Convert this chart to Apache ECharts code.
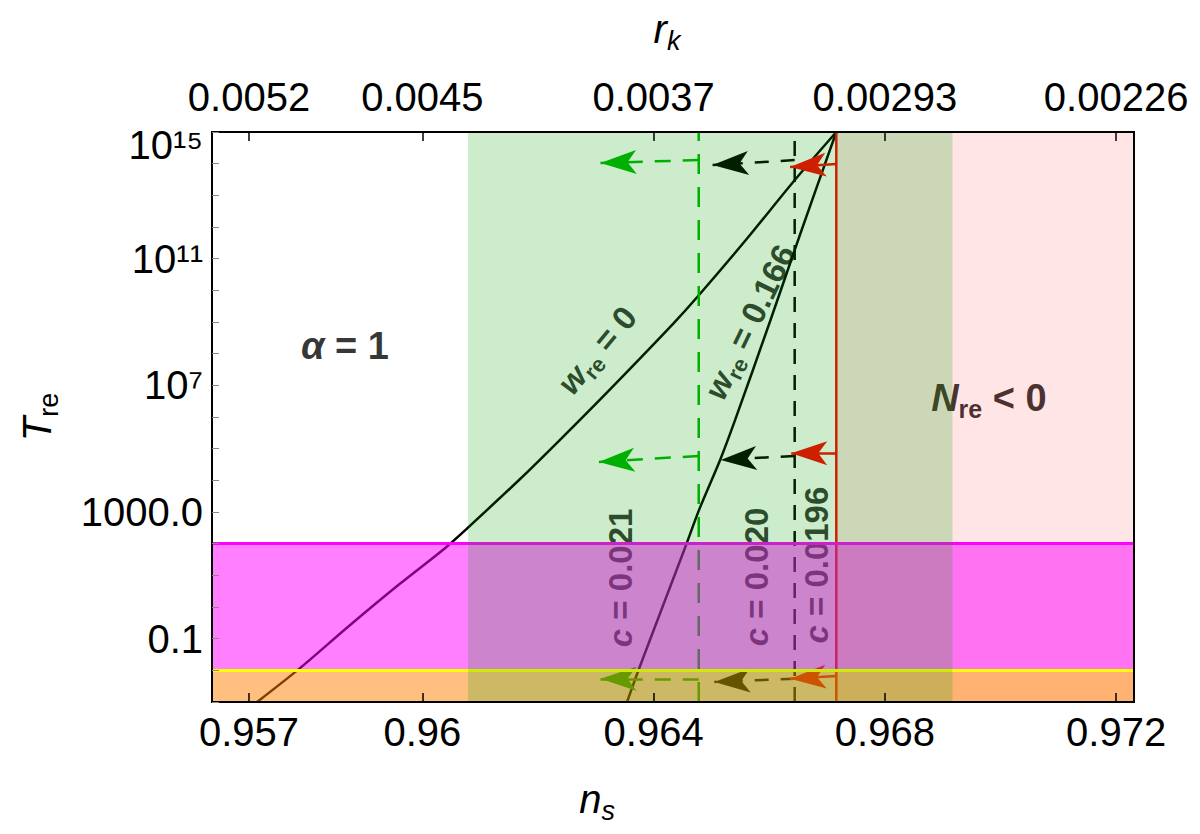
<!DOCTYPE html>
<html>
<head>
<meta charset="utf-8">
<title>Tre vs ns</title>
<script src="https://cdn.jsdelivr.net/npm/echarts@6.0.0/dist/echarts.min.js"></script>
<style>
  html, body { margin: 0; padding: 0; background: #fff; }
  #main { width: 1200px; height: 834px; }
</style>
</head>
<body>
<div id="main"></div>
<script>
// axis ranges
var nsMin = 0.95636, nsMax = 0.97231;
var tMin = 0.9999e-3, tMax = 1.0001e15;

// ticks (top axis shows r_k at the same n_s positions)
var nsTicks = [0.957, 0.96, 0.964, 0.968, 0.972];
var rkLabels = ['0.0052', '0.0045', '0.0037', '0.00293', '0.00226'];
var tLabelTicks = [0.1, 1000, 1e7, 1e11, 1e15];
var tMinorTicks = [1e-3, 1e-2, 1e-1, 1, 10, 100, 1e3, 1e4, 1e5, 1e6, 1e7, 1e8, 1e9, 1e10, 1e11, 1e12, 1e13, 1e14, 1e15];

// w_re = 0 curve
var w0Ns = [0.95714, 0.95785, 0.95875, 0.95961, 0.96039, 0.96077, 0.96169, 0.96238, 0.96325, 0.96434, 0.96477, 0.96562, 0.96641, 0.96716];
var w0T = [1e-3, 1.05e-2, 0.27, 5.4, 72, 300, 1.1e4, 1.9e5, 7.6e6, 8.9e8, 6.6e9, 4.4e11, 2.6e13, 1e15];

// w_re = 0.166 curve
var w166Ns = [0.96354, 0.96376, 0.96454, 0.9648, 0.96515, 0.96541, 0.96601, 0.96653, 0.96716];
var w166T = [1e-3, 1.3e-2, 72, 1350, 4.4e4, 8.1e5, 1e9, 5.6e11, 1e15];

// vertical lines: c = 0.021, c = 0.020, c = 0.0196
var cLineNs = [0.96478, 0.96644, 0.96716];

// shaded regions
var greenBandNs = [0.96079, 0.96917];
var nreNegNs = 0.96716;
var magentaBandT = [1e-2, 100];
var orangeBandT = [1e-3, 1e-2];

// arrows: [ns start, T start, ns tip, T tip]
var greenArrows = [[0.96478, 1.3e14, 0.96308, 1.05e14], [0.96478, 5.9e4, 0.96305, 3.8e4], [0.96478, 5.4e-3, 0.96308, 5.4e-3]];
var blackArrows = [[0.96644, 1.3e14, 0.96502, 9e13], [0.96644, 5.9e4, 0.96516, 4.4e4], [0.96644, 5.4e-3, 0.96505, 4.3e-3]];
var redArrows = [[0.96716, 9.8e13, 0.96636, 7.9e13], [0.96716, 7.2e4, 0.96638, 7.2e4], [0.96716, 6.6e-3, 0.96636, 5.4e-3]];

var font = 'Liberation Sans, Arial, Helvetica, sans-serif';

// text annotations placed in data coordinates
var notes = [
    {ns: 0.95866, t: 1.7e8, rot: 0, text: '{ai|α}{a| = 1}'},
    {ns: 0.96980, t: 4e6, rot: 0, text: '{ai|N}{as|re}{a| < 0}'},
    {ns: 0.96302, t: 1.3e8, rot: 50, text: '{bi|w}{bs|re}{b| = 0}'},
    {ns: 0.96566, t: 1e9, rot: 64, text: '{bi|w}{bs|re}{b| = 0.166}'},
    {ns: 0.96343, t: 8.3, rot: 90, text: '{bi|c}{b| = 0.021}'},
    {ns: 0.96578, t: 8.9, rot: 90, text: '{bi|c}{b| = 0.020}'},
    {ns: 0.96682, t: 21, rot: 90, text: '{bi|c}{b| = 0.0196}'}
];

var noteRich = {
    a: {fontFamily: font, fontSize: 38, fontWeight: 'bold', color: '#000', lineHeight: 48},
    ai: {fontFamily: font, fontSize: 38, fontWeight: 'bold', fontStyle: 'italic', color: '#000', lineHeight: 48},
    as: {fontFamily: font, fontSize: 25, fontWeight: 'bold', color: '#000', lineHeight: 25, verticalAlign: 'bottom'},
    b: {fontFamily: font, fontSize: 33, fontWeight: 'bold', color: '#000', lineHeight: 42},
    bi: {fontFamily: font, fontSize: 33, fontWeight: 'bold', fontStyle: 'italic', color: '#000', lineHeight: 42},
    bs: {fontFamily: font, fontSize: 22, fontWeight: 'bold', color: '#000', lineHeight: 22, verticalAlign: 'bottom'}
};

var nameRich = {
    i: {fontFamily: font, fontSize: 40, fontStyle: 'italic', color: '#000', lineHeight: 50},
    s: {fontFamily: font, fontSize: 27, color: '#000', lineHeight: 26, verticalAlign: 'bottom'},
    si: {fontFamily: font, fontSize: 27, fontStyle: 'italic', color: '#000', lineHeight: 26, verticalAlign: 'bottom'}
};

var supDigits = ['⁰', '¹', '²', '³', '⁴', '⁵', '⁶', '⁷', '⁸', '⁹'];

function pairs(xs, ys) {
    return xs.map(function (x, i) { return [x, ys[i]]; });
}

function curveSeries(xs, ys) {
    return {
        type: 'line', data: pairs(xs, ys), symbol: 'none', z: 2, silent: true, smooth: 0.3,
        lineStyle: {color: '#000', width: 2.5}
    };
}

function vlineSeries(x, color, dash) {
    return {
        type: 'line', data: [[x, tMin], [x, tMax]], symbol: 'none', z: 2, silent: true,
        lineStyle: {color: color, width: 2.5, type: dash}
    };
}

function arrowSeries(list, color, dash) {
    return {
        type: 'line', data: [], silent: true,
        markLine: {
            z: 3, silent: true, animation: false,
            symbol: ['none', 'arrow'],
            symbolSize: [18, 36],
            label: {show: false},
            emphasis: {disabled: true},
            lineStyle: {color: color, width: 2.5, type: dash},
            data: list.map(function (a) {
                return [{coord: [a[0], a[1]]}, {coord: [a[2], a[3]]}];
            })
        }
    };
}

function tLabel(v) {
    var e = Math.round(Math.log(v) / Math.LN10);
    if (e >= 7) {
        var s = '10' + String(e).split('').map(function (d) { return supDigits[+d]; }).join('');
        // the top label sits a little lower, inside the frame
        return e >= 15 ? '\n' + s : s;
    }
    if (v >= 1) return v.toFixed(1);
    return String(v);
}

function rkLabel(v) {
    for (var i = 0; i < nsTicks.length; i++) {
        if (Math.abs(nsTicks[i] - v) < 1e-9) return rkLabels[i];
    }
    return '';
}

var chart = echarts.init(document.getElementById('main'), null, {renderer: 'svg'});

var option = {
    animation: false,
    backgroundColor: '#fff',
    grid: {
        left: 212, right: 66, top: 132, bottom: 132,
        show: true, borderColor: '#000', borderWidth: 2, backgroundColor: 'transparent', z: 20
    },
    xAxis: [{
        type: 'value', position: 'bottom', min: nsMin, max: nsMax, z: 20,
        axisLine: {show: false}, splitLine: {show: false},
        axisTick: {inside: true, length: 9, customValues: nsTicks, lineStyle: {color: '#000', width: 1.5}},
        axisLabel: {
            customValues: nsTicks, margin: 10, fontSize: 40, fontFamily: font, color: '#000',
            formatter: function (v) { return String(v); }
        },
        name: '{i|n}{si|s}', nameLocation: 'middle', nameGap: 72,
        nameTextStyle: {rich: nameRich, padding: [0, 152, 0, 0]}
    }, {
        type: 'value', position: 'top', min: nsMin, max: nsMax, z: 20,
        axisLine: {show: false}, splitLine: {show: false},
        axisTick: {inside: true, length: 9, customValues: nsTicks, lineStyle: {color: '#000', width: 1.5}},
        axisLabel: {
            customValues: nsTicks, margin: 15, fontSize: 40, fontFamily: font, color: '#000',
            formatter: rkLabel
        },
        name: '{i|r}{si|k}', nameLocation: 'middle', nameGap: 78,
        nameTextStyle: {rich: nameRich, padding: [0, 12, 0, 0]}
    }],
    yAxis: {
        type: 'log', logBase: 10, min: tMin, max: tMax, z: 20,
        axisLine: {show: false}, splitLine: {show: false}, minorTick: {show: false},
        axisTick: {inside: true, length: 7, customValues: tMinorTicks, lineStyle: {color: '#888', width: 1}},
        axisLabel: {
            customValues: tLabelTicks, margin: 9, fontSize: 40, lineHeight: 26, fontFamily: font, color: '#000',
            showMaxLabel: true, showMinLabel: true, hideOverlap: false,
            formatter: tLabel
        },
        name: '{i|T}{s|re}', nameLocation: 'middle', nameRotate: 90, nameGap: 150,
        nameTextStyle: {rich: nameRich}
    },
    series: [
        curveSeries(w0Ns, w0T),
        curveSeries(w166Ns, w166T),
        vlineSeries(cLineNs[0], '#00b400', [20, 13]),
        vlineSeries(cLineNs[1], '#000', [15, 11]),
        vlineSeries(cLineNs[2], '#ff0000', 'solid'),
        arrowSeries(greenArrows, '#00b400', [16, 12]),
        arrowSeries(blackArrows, '#000', [14, 12]),
        arrowSeries(redArrows, '#ff0000', 'solid'),
        {
            type: 'scatter', z: 3, silent: true, symbol: 'circle', symbolSize: 1,
            itemStyle: {color: 'rgba(0,0,0,0)'},
            label: {show: true, position: 'inside', color: '#000', rich: noteRich},
            data: notes.map(function (n) {
                return {value: [n.ns, n.t], label: {formatter: n.text, rotate: n.rot}};
            })
        },
        {
            // pink N_re < 0, magenta and orange temperature bands, drawn over the curves
            type: 'line', data: [], silent: true,
            markArea: {
                z: 10, silent: true,
                data: [
                    [{xAxis: nreNegNs, itemStyle: {color: 'rgba(255,0,0,0.1)'}}, {xAxis: nsMax}],
                    [{yAxis: magentaBandT[0], itemStyle: {color: 'rgba(255,0,255,0.5)'}}, {yAxis: magentaBandT[1]}],
                    [{yAxis: orangeBandT[0], itemStyle: {color: 'rgba(255,128,0,0.5)'}}, {yAxis: orangeBandT[1]}]
                ]
            },
            markLine: {
                z: 11, silent: true, symbol: 'none', label: {show: false},
                emphasis: {disabled: true},
                data: [
                    {yAxis: magentaBandT[1], lineStyle: {color: '#ff00ff', width: 3, type: 'solid'}},
                    {yAxis: magentaBandT[0], lineStyle: {color: '#ffff00', width: 3, type: 'solid'}}
                ]
            }
        },
        {
            type: 'line', data: [], silent: true,
            markArea: {
                z: 12, silent: true,
                data: [
                    [{xAxis: greenBandNs[0], itemStyle: {color: 'rgba(0,160,0,0.2)'}}, {xAxis: greenBandNs[1]}]
                ]
            }
        }
    ]
};

chart.setOption(option);
</script>
</body>
</html>
